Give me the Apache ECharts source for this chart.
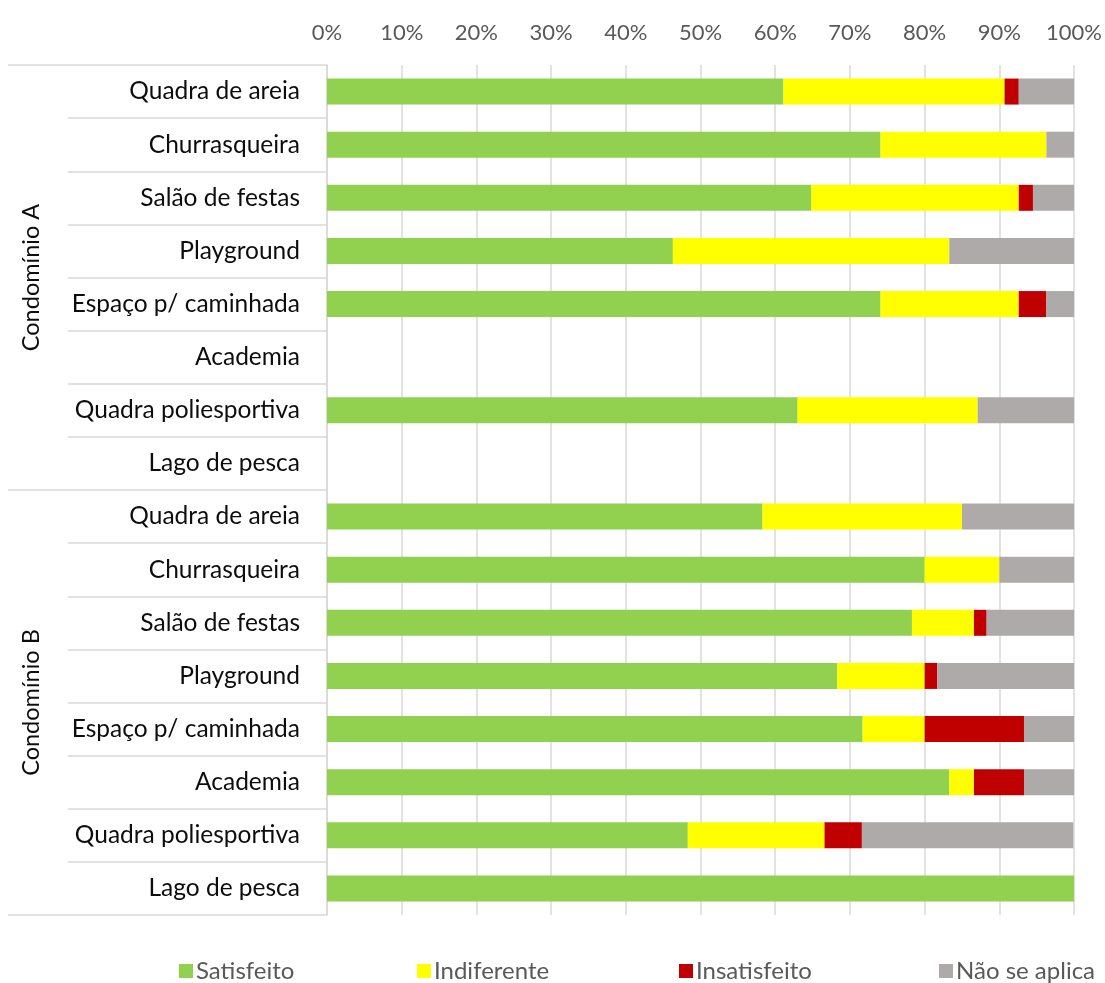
<!DOCTYPE html>
<html>
<head>
<meta charset="utf-8">
<script src="https://cdn.jsdelivr.net/npm/echarts@6/dist/echarts.min.js"></script>
<style>
  html, body { margin: 0; padding: 0; background: #fff; }
  #main { width: 1105px; height: 983px; }
</style>
</head>
<body>
<div id="main"></div>
<script>
// categorias (de cima para baixo)
var categorias = ['Quadra de areia', 'Churrasqueira', 'Salão de festas', 'Playground',
  'Espaço p/ caminhada', 'Academia', 'Quadra poliesportiva', 'Lago de pesca',
  'Quadra de areia', 'Churrasqueira', 'Salão de festas', 'Playground',
  'Espaço p/ caminhada', 'Academia', 'Quadra poliesportiva', 'Lago de pesca'];
var grupos = ['Condomínio A', 'Condomínio B'];

// valores em %
var satisfeito   = [61.1, 74.1, 64.8, 46.3, 74.1, null, 63.0, null, 58.3, 80.0, 78.3, 68.3, 71.7, 83.3, 48.3, 100];
var indiferente  = [29.6, 22.2, 27.8, 37.0, 18.5, null, 24.1, null, 26.7, 10.0, 8.3, 11.7, 8.3, 3.3, 18.3, 0];
var insatisfeito = [1.9, 0, 1.9, 0, 3.7, null, 0, null, 0, 0, 1.7, 1.7, 13.3, 6.7, 5.0, 0];
var naoSeAplica  = [7.4, 3.7, 5.6, 16.7, 3.7, null, 13.0, null, 15.0, 10.0, 11.7, 18.3, 6.7, 6.7, 28.3, 0];

var nomes = ['Satisfeito', 'Indiferente', 'Insatisfeito', 'Não se aplica'];
var cores = ['#92D050', '#FFFF00', '#C00000', '#AEAAAA'];
var valores = [satisfeito, indiferente, insatisfeito, naoSeAplica];

var fonte = 'Lato, "Open Sans", sans-serif';
var chart = echarts.init(document.getElementById('main'));

var series = nomes.map(function (n, i) {
  return {
    name: n,
    type: 'bar',
    stack: 'total',
    barWidth: 26,
    itemStyle: { color: cores[i] },
    data: valores[i]
  };
});

// legendas separadas (como no Excel, espaçamento fixo)
var legendLeft = [174, 412, 674, 934];
var legends = nomes.map(function (n, i) {
  return {
    data: [n],
    left: legendLeft[i],
    top: 954,
    icon: 'rect',
    itemWidth: 14,
    itemHeight: 14,
    itemGap: 4,
    textStyle: { fontFamily: fonte, fontSize: 24, color: '#595959', padding: [0, 0, 0, -2] }
  };
});

var option = {
  animation: false,
  backgroundColor: '#fff',
  grid: { left: 327, right: 30, top: 65, bottom: 68, containLabel: false },
  legend: legends,
  xAxis: {
    type: 'value',
    position: 'top',
    min: 0,
    max: 100,
    interval: 10,
    axisLine: { show: false },
    axisTick: { show: false },
    axisLabel: {
      formatter: '{value}%',
      fontFamily: fonte,
      fontSize: 22,
      color: '#595959',
      margin: 21
    },
    splitLine: { lineStyle: { color: '#D9D9D9', width: 1.5 } }
  },
  yAxis: [
    {
      type: 'category',
      data: categorias,
      inverse: true,
      axisLine: { show: true, lineStyle: { color: '#D9D9D9', width: 1.5 } },
      axisTick: { show: true, length: 259, lineStyle: { color: '#D9D9D9', width: 1.5 } },
      axisLabel: {
        fontFamily: fonte,
        fontSize: 24.5,
        color: '#0D0D0D',
        margin: 27
      }
    },
    {
      type: 'category',
      data: grupos,
      inverse: true,
      position: 'left',
      axisLine: { show: false },
      axisTick: { show: true, length: 319, lineStyle: { color: '#D9D9D9', width: 1.5 } },
      axisLabel: {
        rotate: 90,
        fontFamily: fonte,
        fontSize: 23.5,
        color: '#0D0D0D',
        margin: 284
      }
    }
  ],
  series: series
};

chart.setOption(option);
</script>
</body>
</html>
